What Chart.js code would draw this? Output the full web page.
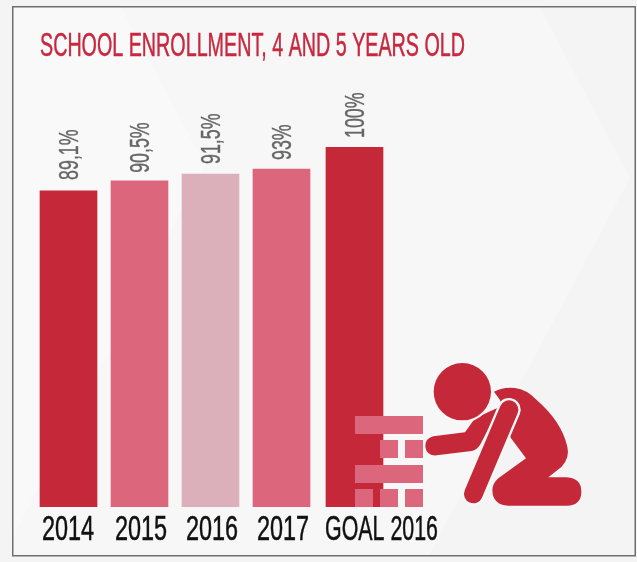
<!DOCTYPE html>
<html>
<head>
<meta charset="utf-8">
<style>html,body{margin:0;padding:0;background:#f4f4f4}canvas{display:block}</style>
<script src="https://cdn.jsdelivr.net/npm/chart.js@4/dist/chart.umd.min.js"></script>
</head>
<body>
<div style="width:637px;height:562px;position:relative"><canvas id="c" width="637" height="562"></canvas></div>
<script>
const titleText = 'SCHOOL ENROLLMENT, 4 AND 5 YEARS OLD';
const categories = ['2014', '2015', '2016', '2017', 'GOAL 2016'];
// Bar lengths as drawn in the picture, relative to the tallest bar = 100
const barHeights = [87.8, 90.6, 92.5, 93.9, 100];
// Labels as printed above the bars
const printedLabels = ['89,1%', '90,5%', '91,5%', '93%', '100%'];
const barColors = ['#c42839', '#dc667c', '#dcb0ba', '#dc667c', '#c42839'];
const barNudge = [0, 0, 0, 0, 2];
const tickNudge = [-0.5, 1.5, 1.5, 1.5, 27];
const tickSqueeze = [0.68, 0.68, 0.68, 0.68, 0.62];
const labelLift = [11, 8, 10, 9, 9];

const FONT = '"Liberation Sans",sans-serif';
const RED = '#c42839', PINK = '#dc667c', INK = '#f7f7f7';

function squeezed(c, text, x, y, size, sx, color, weight) {
  c.save();
  c.translate(x, y);
  c.scale(sx, 1);
  c.font = size + 'px ' + FONT;
  c.textBaseline = 'alphabetic';
  c.fillStyle = color;
  c.fillText(text, 0, 0);
  if (weight) { c.strokeStyle = color; c.lineWidth = weight; c.strokeText(text, 0, 0); }
  c.restore();
}

const backdrop = {
  id: 'backdrop',
  beforeDraw(chart) {
    const c = chart.ctx;
    c.save();
    c.fillStyle = '#f4f4f4';
    c.fillRect(0, 0, 637, 562);
    c.beginPath(); c.rect(13, 7, 622, 548); c.clip();
    c.fillStyle = '#f7f7f7';
    c.fillRect(13, 7, 622, 548);
    c.fillStyle = '#f9f9f9';
    c.beginPath(); c.moveTo(0, 0); c.lineTo(117, 0); c.lineTo(205, 165); c.lineTo(0, 562); c.closePath(); c.fill();
    c.fillStyle = '#f4f4f4';
    c.beginPath(); c.moveTo(536, 0); c.lineTo(630, 178); c.lineTo(425, 562); c.lineTo(637, 562); c.lineTo(637, 0); c.closePath(); c.fill();
    c.restore();
    c.save();
    c.strokeStyle = '#6f6f6f'; c.lineWidth = 1.5;
    c.strokeRect(12.75, 6.75, 622.5, 549);
    c.restore();
    c.save();
    c.font = '33px ' + FONT;
    const w = c.measureText(titleText).width;
    c.restore();
    squeezed(c, titleText, 40, 56, 33, 425 / w, '#c8283f', 0.5);
  }
};

const axisLabels = {
  id: 'axisLabels',
  afterDatasetsDraw(chart) {
    const c = chart.ctx, s = chart.scales.x;
    categories.forEach((label, i) => {
      c.save();
      c.font = '34.5px ' + FONT;
      const w = c.measureText(label).width * tickSqueeze[i];
      c.restore();
      squeezed(c, label, s.getPixelForTick(i) + tickNudge[i] - w / 2, 540, 34.5, tickSqueeze[i], '#111111', 0.5);
    });
    chart.getDatasetMeta(0).data.forEach((bar, i) => {
      c.save();
      c.translate(bar.x + 9, bar.y - labelLift[i]);
      c.rotate(-Math.PI / 2);
      squeezed(c, printedLabels[i], 0, 0, 27, 0.66, '#666666', 0.4);
      c.restore();
    });
  }
};

const pictogram = {
  id: 'pictogram',
  afterDraw(chart) {
    const c = chart.ctx;
    c.save();
    c.fillStyle = PINK;
    [[355,416,68,18],[380,440,18,18],[405,440,18,18],[355,465,68,18],[355,489,18,18],[380,489,18,18],[405,489,18,18]]
      .forEach(r => c.fillRect(r[0], r[1], r[2], r[3]));
    c.translate(420, 350);
    c.scale(1 / 3, 1 / 3);
    c.fillStyle = RED;
    c.beginPath();
    c.moveTo(222, 125);
    c.quadraticCurveTo(250, 110, 285, 114);
    c.quadraticCurveTo(320, 118, 350, 150);
    c.quadraticCurveTo(425, 215, 442, 290);
    c.quadraticCurveTo(450, 322, 425, 350);
    c.lineTo(385, 382);
    c.lineTo(440, 382);
    c.quadraticCurveTo(484, 385, 484, 425);
    c.quadraticCurveTo(484, 466, 440, 467);
    c.lineTo(265, 467);
    c.quadraticCurveTo(218, 465, 217, 420);
    c.quadraticCurveTo(218, 400, 235, 385);
    c.lineTo(318, 325);
    c.lineTo(272, 263);
    c.lineTo(240, 150);
    c.closePath();
    c.fill();
    // reaching arm
    c.beginPath();
    c.moveTo(165, 205);
    c.lineTo(135, 247);
    c.lineTo(40, 259);
    c.quadraticCurveTo(15, 265, 16, 290);
    c.quadraticCurveTo(20, 318, 50, 316);
    c.lineTo(155, 303);
    c.quadraticCurveTo(170, 300, 180, 285);
    c.lineTo(240, 170);
    c.closePath();
    c.fill();
    // long arm with outline
    c.lineCap = 'round';
    c.strokeStyle = INK; c.lineWidth = 70;
    c.beginPath(); c.moveTo(267, 179); c.lineTo(160, 432); c.stroke();
    c.strokeStyle = RED; c.lineWidth = 56;
    c.beginPath(); c.moveTo(267, 179); c.lineTo(160, 432); c.stroke();
    // head with outline
    c.fillStyle = INK;
    c.beginPath(); c.arc(127, 125, 93, 0, Math.PI * 2); c.fill();
    c.fillStyle = RED;
    c.beginPath(); c.arc(127, 125, 86, 0, Math.PI * 2); c.fill();
    c.restore();
  }
};

new Chart(document.getElementById('c'), {
  type: 'bar',
  data: {
    labels: categories,
    datasets: [{ data: barHeights, backgroundColor: barColors, barThickness: 57, borderWidth: 0 }]
  },
  plugins: [backdrop, axisLabels, pictogram],
  options: {
    responsive: false,
    animation: false,
    events: [],
    layout: { padding: { left: 33, right: 249, top: 147, bottom: 0 } },
    plugins: { legend: { display: false }, tooltip: { enabled: false }, title: { display: false } },
    scales: {
      y: { display: false, min: 0, max: 100 },
      x: {
        grid: { display: false },
        border: { display: false },
        ticks: { display: false },
        afterFit(s) { s.height = 55; },
        afterUpdate(s) {
          if (s._nudged) return;
          s._nudged = true;
          const base = s.getPixelForValue;
          s.getPixelForValue = function (v) { return base.call(s, v) + (barNudge[v] || 0); };
        }
      }
    }
  }
});
</script>
</body>
</html>
